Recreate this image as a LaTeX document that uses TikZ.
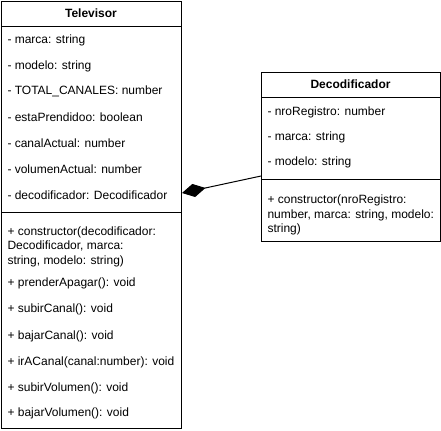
\documentclass[tikz,border=0pt]{standalone}
\usepackage{fontspec}
\setmainfont{Liberation Sans}
\usetikzlibrary{arrows.meta}
\begin{document}
\begin{tikzpicture}[x=0.75pt,y=-0.75pt,line width=0.75pt,
  font=\fontsize{9pt}{10.8pt}\selectfont,
  classbox/.style={shape=rectangle,draw=black,fill=white,anchor=north west,inner sep=0pt},
  classtitle/.style={font=\fontsize{9pt}{10.8pt}\selectfont\bfseries,inner sep=0pt,text height=7pt,text depth=2pt},
  member/.style={anchor=west,inner sep=0pt,text height=7pt,text depth=2pt},
  multimember/.style={anchor=west,inner sep=0pt,align=left}]
  \useasboundingbox (0,0) rectangle (441,430);

  % Televisor
  \node[classbox,
    minimum width = 135pt,
    minimum height = 320.25pt] (tv) at (1,1) {};
  \draw (1,26) -- (181,26);
  \draw (1,212) -- (181,212);
  \node[classtitle] (tvTitle) at (91,14) {Televisor};
  \node[member] (tvMarca) at (7,40) {- marca: string};
  \node[member] (tvModelo) at (7,66) {- modelo: string};
  \node[member] (tvTotal) at (7,91) {- TOTAL\_CANALES: number};
  \node[member] (tvPrendido) at (7,118) {- estaPrendidoo: boolean};
  \node[member] (tvCanal) at (7,144) {- canalActual: number};
  \node[member] (tvVolumen) at (7,170) {- volumenActual: number};
  \node[member] (tvDeco) at (7,196) {- decodificador: Decodificador};

  \node[multimember] (tvConstructor) at (7,246.5)
    {+ constructor(decodificador:\\Decodificador, marca:\\string, modelo: string)};
  \node[member] (tvPrender) at (7,283) {+ prenderApagar(): void};
  \node[member] (tvSubir) at (7,309) {+ subirCanal(): void};
  \node[member] (tvBajar) at (7,336) {+ bajarCanal(): void};
  \node[member] (tvIrA) at (7,362) {+ irACanal(canal:number): void};
  \node[member] (tvSubirVol) at (7,388) {+ subirVolumen(): void};
  \node[member] (tvBajarVol) at (7,413) {+ bajarVolumen(): void};

  % Decodificador
  \node[classbox,
    minimum width = 134.25pt,
    minimum height = 127pt] (dc) at (261,72) {};
  \draw (261,97) -- (440,97);
  \draw (261,179) -- (440,179);
  \node[classtitle] (dcTitle) at (350.5,85) {Decodificador};
  \node[member] (dcRegistro) at (267,112) {- nroRegistro: number};
  \node[member] (dcMarca) at (267,137) {- marca: string};
  \node[member] (dcModelo) at (267,162) {- modelo: string};
  \node[multimember] (dcConstructor) at (267,215)
    {+ constructor(nroRegistro:\\number, marca: string, modelo:\\string)};

  % composicion
  \coordinate (tvLink) at (tv.east |- 0,193);
  \coordinate (dcLink) at (dc.west |- 0,176);
  \draw[{Diamond[length=18pt,width=10pt]}-,draw=black] (tvLink) -- (dcLink);
\end{tikzpicture}
\end{document}
